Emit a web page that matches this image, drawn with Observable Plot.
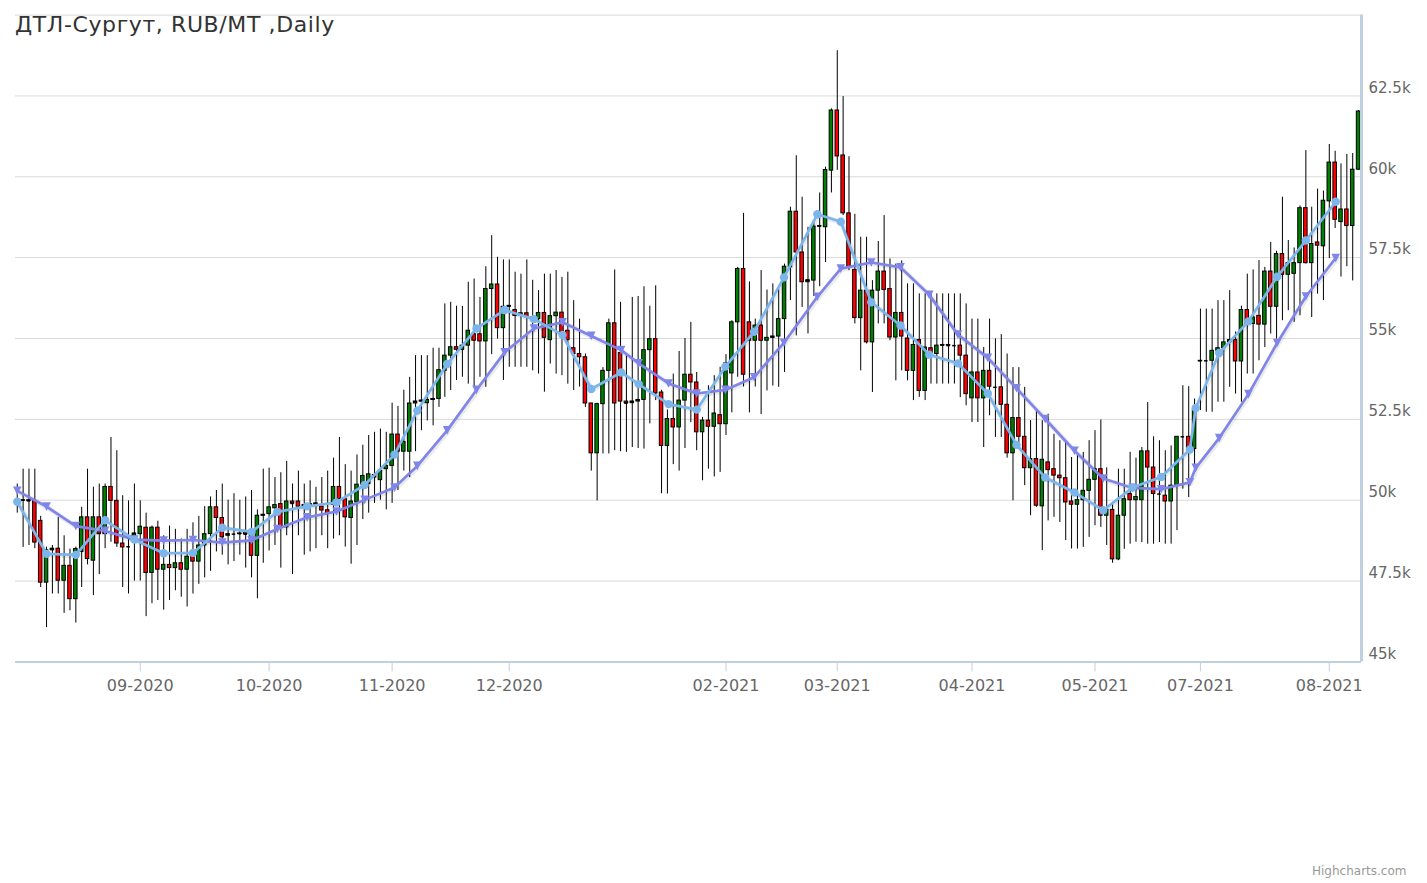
<!DOCTYPE html>
<html><head><meta charset="utf-8">
<script src="https://cdn.jsdelivr.net/npm/d3@7"></script>
<script src="https://cdn.jsdelivr.net/npm/@observablehq/plot@0.6"></script>
<style>
body{margin:0;background:#fff;}
#wrap{position:relative;width:1427px;height:883px;font-family:"DejaVu Sans",sans-serif;}
#title{position:absolute;left:15px;top:12px;font-size:22px;letter-spacing:0.6px;color:#333;white-space:nowrap;}
#credit{position:absolute;left:1312px;top:864px;font-size:12px;color:#999;white-space:nowrap;}
</style></head><body>
<div id="wrap"><div id="chart"></div><div id="title">ДТЛ-Сургут, RUB/MT ,Daily</div><div id="credit">Highcharts.com</div></div>
<script>
const opens = [50000,49980,50000,49980,49360,47450,48450,48500,47510,47970,46940,48400,49470,48130,49470,48950,50410,49980,48660,48560,48900,48950,49150,47750,49150,47850,48000,47900,48050,47850,48250,48100,48600,48950,49780,49450,48900,48950,48950,49000,49000,48280,49520,49570,49750,49880,49160,49960,49960,49800,49800,49850,49800,49690,49860,50410,50030,49450,49930,50480,50500,50780,50620,50960,51060,52030,51500,51500,52990,53050,53000,53100,53130,54000,54470,54730,54650,54780,55130,55130,54910,56530,56670,55320,55980,55880,55700,55780,55650,55600,55790,54950,55690,55800,55240,54700,54520,54420,52990,51450,52970,54000,55470,54550,53050,53000,53050,53100,54640,54980,53330,51680,52510,52250,53080,53880,53640,52100,52460,52270,52630,52350,53920,55500,57150,55500,54930,55400,54930,55020,55060,55600,57200,58920,57660,56740,56790,58460,58440,60190,62050,60660,58870,57120,55630,56480,54880,56480,57070,56530,55030,55790,55000,54000,54950,53380,54700,54520,54780,54800,54780,54780,54470,53150,53950,53150,54000,53490,53490,52950,51450,52540,51960,50990,51270,49810,51170,50960,50760,50680,49960,49860,50000,50290,50630,50960,49520,49700,48170,49520,50190,50000,50000,51510,51010,50190,50140,49960,50450,51960,51960,51580,54300,54310,54310,54620,54700,54880,54950,54290,55880,55450,55700,55430,57070,55980,57610,56970,57000,57330,59030,57330,57970,57850,59240,60440,58600,58990,58480,60220];
const highs = [50500,50960,50960,50960,49500,48550,48600,49470,48900,48490,48550,49780,50960,50400,50500,50500,51940,51530,50140,49980,50500,49980,49600,49200,49350,48900,49200,49100,48800,49100,49300,49500,49800,50100,50300,50500,50000,50200,50000,50100,50300,49700,50960,50990,50700,50850,51200,50500,50900,50500,50600,50400,50700,50900,51300,51940,51100,50900,51400,51700,52000,52100,52200,52100,53000,52900,53400,53800,54470,54470,54470,54700,54700,56070,56120,56000,55990,56740,56840,56270,57220,58180,57510,57430,57430,57050,56990,57430,56800,56480,56990,56990,57100,56890,57050,56170,55600,54520,53000,53000,54100,55600,57120,56120,54520,56270,56300,56600,56000,56630,53400,52790,53900,54600,55000,55500,53950,52560,53540,53850,54110,54500,55550,57200,58870,56750,55600,57100,56500,56690,56530,57300,59060,60650,59370,58440,58600,59500,60300,62100,63900,62480,60620,58840,58130,58130,56790,58000,58800,57460,57300,57400,56690,56690,56380,56380,56380,56380,56380,56380,56380,56380,56070,55600,55600,54720,55600,54990,55120,54520,54100,54100,53490,52460,52770,52460,52660,52040,51840,51840,51320,51380,51480,51840,52150,52480,51000,49900,50960,50960,51480,51300,51630,53020,51960,51840,51530,51680,51960,53540,53510,53130,55910,55910,55910,56170,56170,56480,55200,56000,56990,57120,57410,57200,57970,57700,59370,58030,57800,59100,60810,59060,59620,59560,61000,60790,60400,60690,60720,62050];
const lows = [49600,48540,48600,48500,47300,46060,47100,47100,46500,46580,46200,47300,48000,47050,47700,48500,48700,48540,47300,47100,47500,47500,46400,46800,46900,46600,46900,47200,47000,46700,47100,47400,47600,47800,48400,48300,48000,48100,48300,47900,47600,46950,48050,48430,48600,47900,48900,47700,48900,48300,48400,48500,48900,48500,48800,48900,48550,48020,48600,49400,49600,49900,50000,49700,49900,50300,50900,50700,51500,52150,52450,52300,52870,53180,53390,53700,53800,53590,53490,53800,53490,54500,54980,53700,54110,54110,54110,54110,54000,53900,53340,54210,53900,53850,53590,53390,53500,52870,50900,49980,51430,51430,51530,51500,51480,51630,51600,51580,52360,53080,50200,50190,51100,50900,51600,52400,51530,50600,50960,50720,50860,52000,52700,53800,53500,52700,53500,52650,53380,53530,53490,53950,56170,55080,55960,55140,56300,56600,57350,59500,60200,58800,57100,55450,54000,54830,53330,55450,55450,54930,53690,54000,53690,53080,53180,53080,53590,53590,53590,53590,53590,53170,52920,52400,52400,51630,52610,51940,51940,51300,49980,51630,50450,49520,49780,48440,49360,49470,49310,48750,48490,48490,48540,48850,49210,49160,48600,48050,48130,48480,48640,48700,48690,48640,48640,48690,48640,48640,49060,50340,50080,51100,52770,52720,52720,53030,53030,53490,53280,53030,53900,53900,54310,54720,55140,54980,55550,55860,55500,55700,57300,55650,56370,56170,57470,58400,56900,57220,56780,60200];
const closes = [49950,50000,49980,48690,47450,48450,48500,47510,47970,46940,48490,49470,48180,49470,48950,50410,49980,48660,48540,48560,48970,49180,47750,49150,47850,48000,47900,48050,47850,48250,48100,48600,48950,49780,49450,48850,48950,48950,48970,48950,48280,49520,49550,49780,49850,49160,49960,49900,49800,49850,49880,49900,49680,49590,50410,50030,49470,49960,50480,50750,50800,50700,50910,51060,52030,51500,51800,52990,53050,53080,53100,53130,54020,54470,54730,54650,54780,55240,54930,54910,56530,56670,55320,55980,56010,55700,55780,55650,55600,55790,55020,55690,55800,55200,54950,54520,54420,52990,51450,52970,54000,55470,52990,53050,53000,53050,53100,54640,54980,53300,51680,52510,52250,53080,53880,53640,52100,52460,52270,52680,52350,54230,55500,57150,53880,54930,55400,54930,55020,55060,55600,57220,58920,57660,56740,56800,58460,58480,60210,62050,60630,58870,57200,55630,56480,54880,56480,57070,56500,55030,55790,55060,54000,54800,53380,54720,54520,54780,54800,54780,54780,54470,53280,53950,53150,54000,53510,53490,52950,51450,52540,51960,50990,51270,49830,51250,50930,50760,50680,49930,49860,50000,50290,50630,50960,49520,49700,48170,49520,50030,50000,50100,51510,51010,50190,50190,49960,50450,51960,51960,51580,52800,54310,54310,54620,54700,54880,54950,54290,55880,55450,55650,55430,57070,55980,57610,56970,57330,57330,59030,57330,57920,57870,59260,60440,58670,58990,58480,60220,62020];

// weekly moving-average points (position on the trading-day axis, values)
const maPos = [0,5,10,15,20,25,30,35,40,44.4,49.5,54.5,59.3,64.4,68.3,73.4,78.4,83.2,88.2,93.1,98.0,103.1,106.1,111.2,116.0,120.9,125.8,130.9,136.6,140.6,145.8,150.8,155.7,160.6,165.7,170.6,175.5,180.5,185.4,190.4,195.3,200.2,201.2,205.2,210.2,215.1,220.0,225.1];
const maFast = [49950,48340,48310,49380,48780,48360,48370,49150,49020,49640,49810,49930,50470,51410,52770,54210,55310,55880,55600,55110,53440,53950,53590,52970,52800,54130,55210,56890,58840,58610,56120,55400,54500,54230,53300,51710,50700,50240,49690,50390,50720,51570,52850,54550,55530,56910,58030,59230];
const maSlow = [50290,49800,49200,49050,48780,48750,48770,48690,48760,49110,49470,49650,50010,50390,51060,52160,53410,54570,55310,55500,55080,54640,54230,53610,53300,53410,53800,54870,56290,57160,57350,57200,56350,55120,54400,53460,52510,51530,50670,50380,50340,50550,51000,51920,53280,54860,56300,57490];

const tickPos = [21,43,64,84,121,140,163,184,202,224];
const tickLabels = ["09-2020","10-2020","11-2020","12-2020","02-2021","03-2021","04-2021","05-2021","07-2021","08-2021"];
const yTicks = [45000,47500,50000,52500,55000,57500,60000,62500];
const yGrid = [45000,47500,50000,52500,55000,57500,60000,62500,65000];
const yDomain = [45000,65000];
const xDomain = [-0.3,229.5];

const candles = opens.map((o,i)=>({i, open:o, high:highs[i], low:lows[i], close:closes[i]}));
const ma = maPos.map((p,k)=>({p, fast:maFast[k], slow:maSlow[k]}));
const hw = 0.3;

const triangleDown = {
  draw(ctx, size){
    const r = Math.sqrt(size/Math.PI);
    ctx.moveTo(-r,-r); ctx.lineTo(r,-r); ctx.lineTo(0,r); ctx.closePath();
  }
};

const chart = Plot.plot({
  width:1427, height:883,
  marginLeft:15, marginRight:66, marginTop:14.6, marginBottom:221.6,
  style:{fontFamily:"DejaVu Sans, sans-serif", background:"#fff", color:"#666"},
  x:{domain:xDomain},
  y:{domain:yDomain},
  marks:[
    Plot.ruleY(yGrid,{stroke:"#d9d9d9", strokeWidth:1}),
    Plot.ruleX(candles,{x:"i", y1:"low", y2:"high", stroke:"#000", strokeWidth:1}),
    Plot.rect(candles,{x1:d=>d.i-hw, x2:d=>d.i+hw, y1:"open", y2:"close",
      fill:d=>d.close>=d.open?"#008000":"#ff0000", stroke:"#000", strokeWidth:1}),
    Plot.ruleY(candles,{filter:d=>Math.abs(d.close-d.open)<80, y:"close", x1:d=>d.i-hw, x2:d=>d.i+hw, stroke:"#000", strokeWidth:1.5}),
    Plot.line(ma,{x:"p", y:"slow", stroke:"#000", strokeOpacity:0.08, strokeWidth:5, dx:1, dy:1}),
    Plot.line(ma,{x:"p", y:"slow", stroke:"#8085e9", strokeWidth:2.7}),
    Plot.dot(ma,{x:"p", y:"slow", fill:"#8085e9", r:4.3, symbol:triangleDown}),
    Plot.line(ma,{x:"p", y:"fast", stroke:"#000", strokeOpacity:0.08, strokeWidth:5, dx:1, dy:1}),
    Plot.line(ma,{x:"p", y:"fast", stroke:"#7cb5ec", strokeWidth:2.7}),
    Plot.dot(ma,{x:"p", y:"fast", fill:"#7cb5ec", r:4.2}),
    Plot.ruleY([yDomain[0]],{stroke:"#c0d0e0", strokeWidth:2}),
    Plot.ruleX([xDomain[1]],{stroke:"#c0d0e0", strokeWidth:3}),
    Plot.axisY(yTicks,{anchor:"right", tickSize:0, tickPadding:7, dy:-8, fontSize:15, fill:"#666",
      tickFormat:d=>(d/1000)+"k", label:null}),
    Plot.axisX(tickPos,{anchor:"bottom", tickSize:10, tickPadding:8, fontSize:16, fill:"#666", stroke:"#c0d0e0",
      tickFormat:d=>tickLabels[tickPos.indexOf(d)], label:null})
  ]
});
document.getElementById("chart").append(chart);
</script>
</body></html>
